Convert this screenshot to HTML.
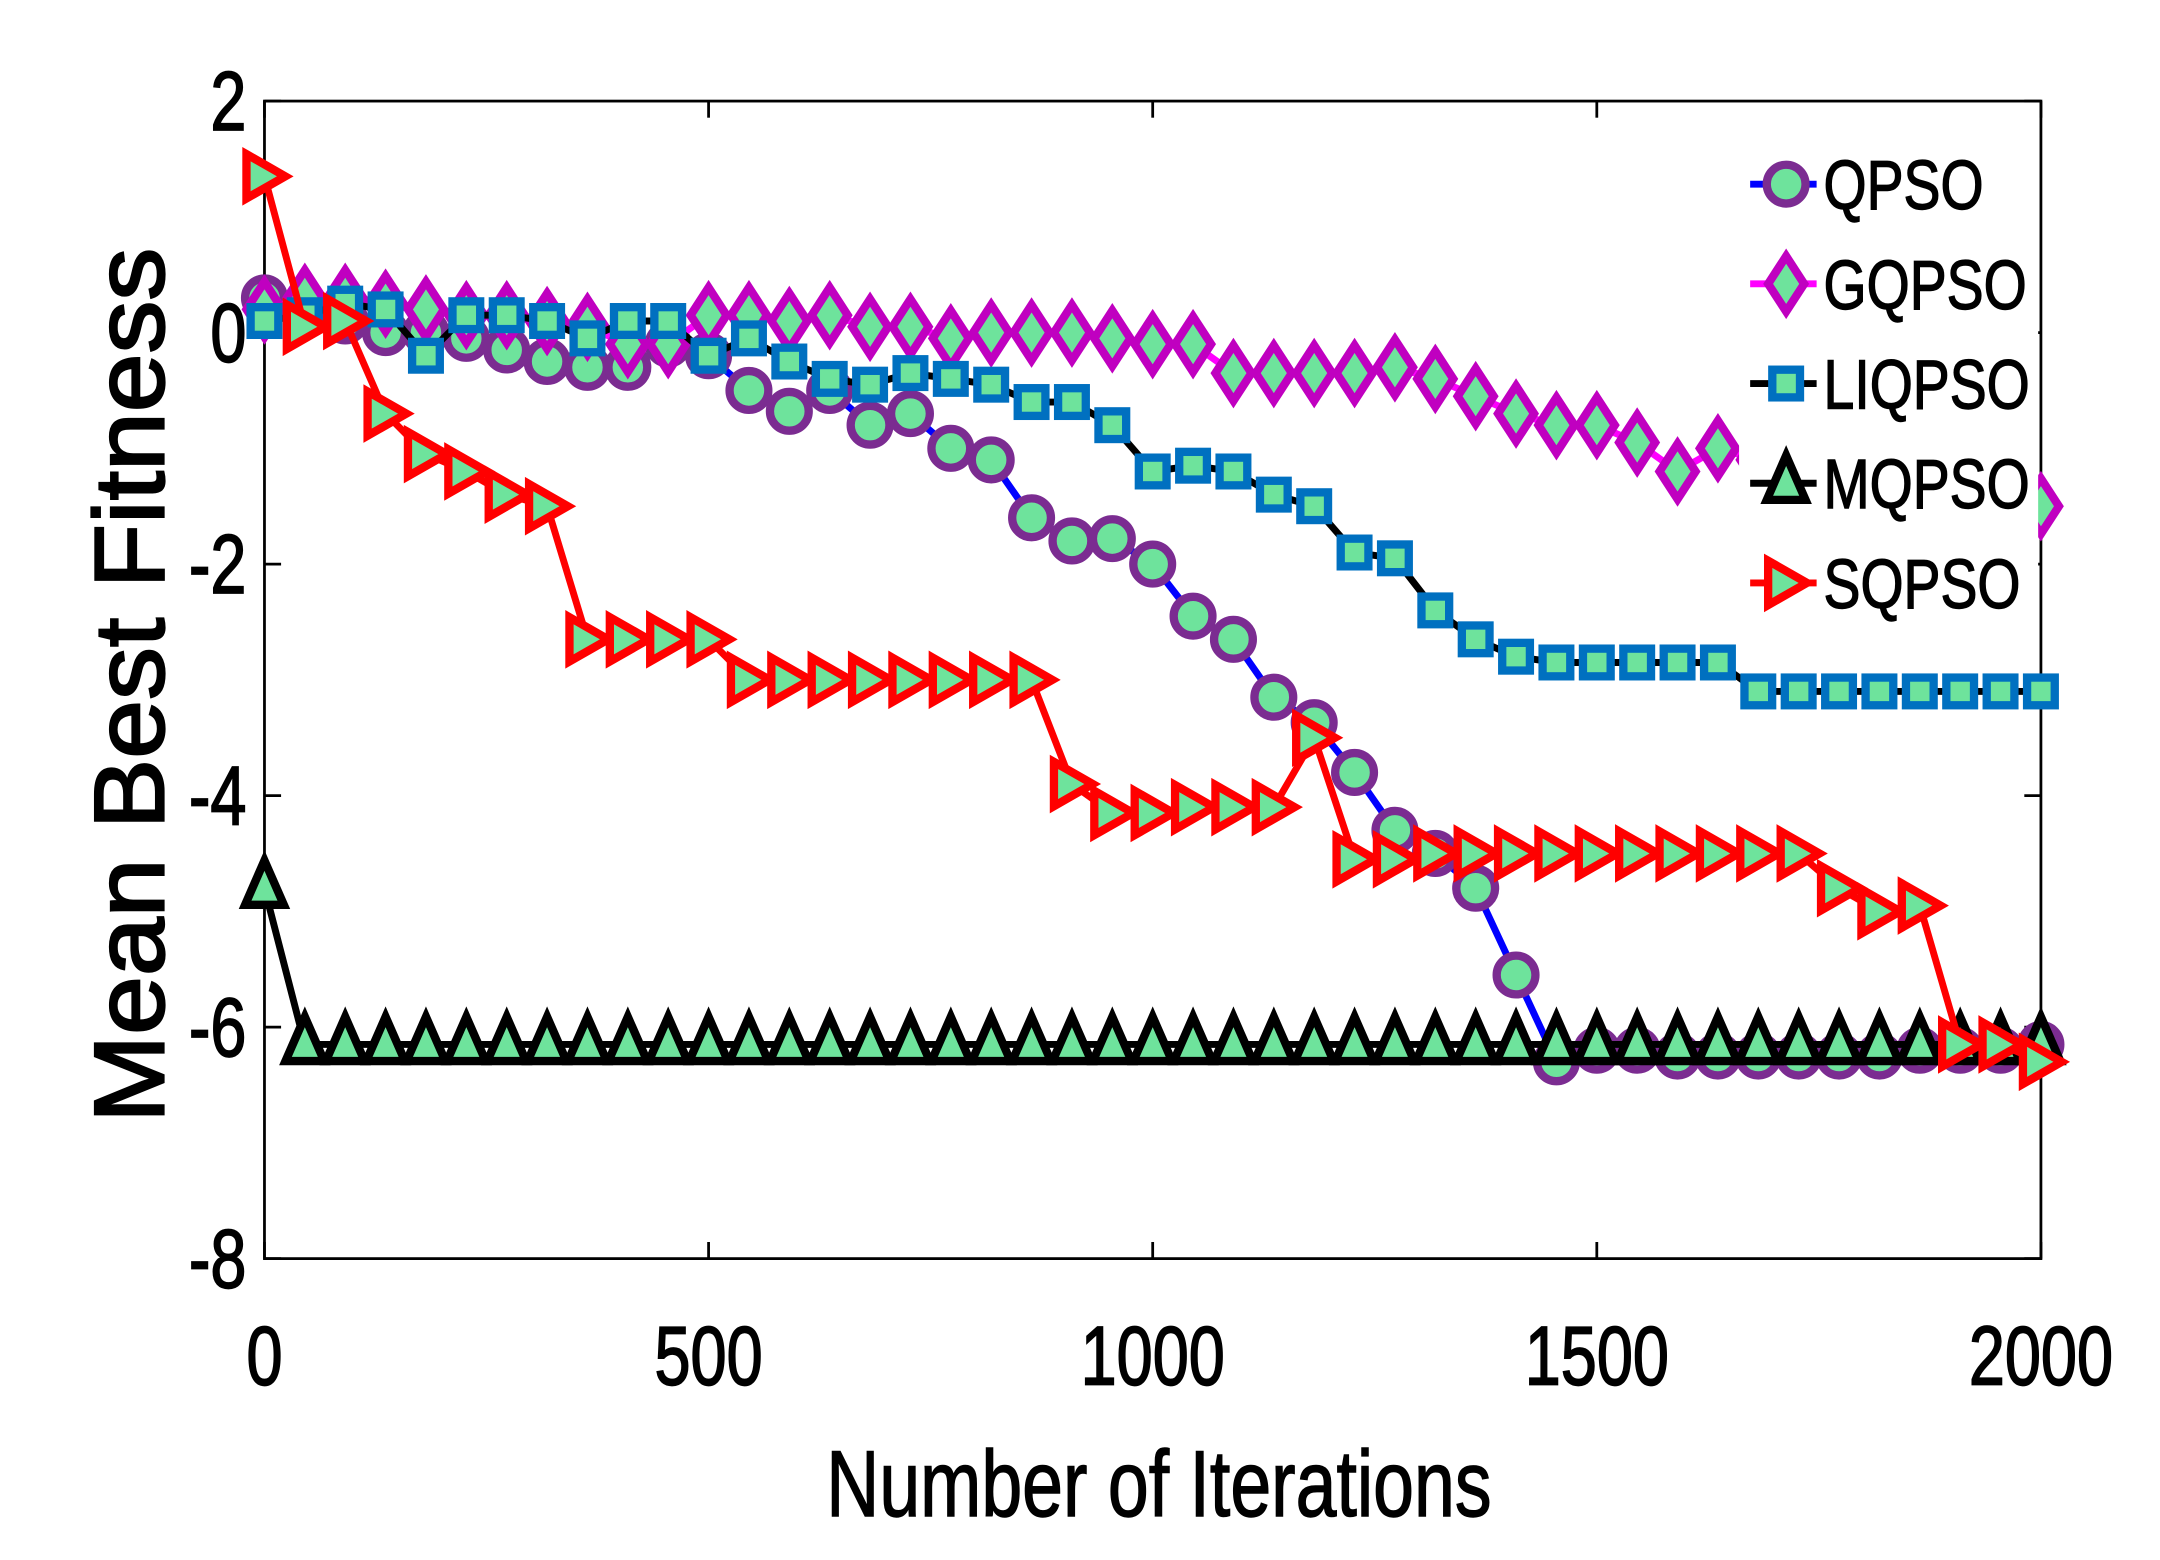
<!DOCTYPE html>
<html><head><meta charset="utf-8"><style>
html,body{margin:0;padding:0;background:#fff;}
svg{display:block;}
text{font-family:"Liberation Sans",sans-serif;fill:#000;}
</style></head><body>
<svg id="chart" width="2160" height="1560" viewBox="0 0 1560 1126.67" xmlns="http://www.w3.org/2000/svg">
<rect x="0" y="0" width="1560" height="1127" fill="#fff"/>
<g id="plot"></g>
</svg>
<script>
const iterations = [];
for (let i = 0; i < 45; i++) iterations.push(i * 2000 / 44);
const qpso = [0.3,0.2,0.1,0.0,0.0,-0.05,-0.15,-0.25,-0.3,-0.3,-0.1,-0.2,-0.5,-0.68,-0.5,-0.8,-0.7,-1.0,-1.1,-1.6,-1.8,-1.78,-2.0,-2.45,-2.65,-3.15,-3.37,-3.8,-4.3,-4.5,-4.8,-5.55,-6.3,-6.2,-6.2,-6.25,-6.25,-6.25,-6.25,-6.25,-6.25,-6.2,-6.2,-6.2,-6.15];
const gqpso = [0.2,0.3,0.3,0.25,0.2,0.15,0.15,0.1,0.05,-0.1,-0.1,0.15,0.15,0.1,0.15,0.05,0.05,-0.05,0.0,0.0,0.0,-0.05,-0.1,-0.1,-0.35,-0.35,-0.35,-0.35,-0.3,-0.4,-0.55,-0.7,-0.8,-0.8,-0.95,-1.2,-1.0,-1.1,-1.2,-1.3,-1.35,-1.4,-1.45,-1.5,-1.5];
const liqpso = [0.1,0.15,0.25,0.2,-0.2,0.15,0.15,0.1,-0.05,0.1,0.1,-0.2,-0.05,-0.25,-0.4,-0.45,-0.35,-0.4,-0.45,-0.6,-0.6,-0.8,-1.2,-1.15,-1.2,-1.4,-1.5,-1.9,-1.95,-2.4,-2.65,-2.8,-2.85,-2.85,-2.85,-2.85,-2.85,-3.1,-3.1,-3.1,-3.1,-3.1,-3.1,-3.1,-3.1];
const mqpso = [-4.8,-6.15,-6.15,-6.15,-6.15,-6.15,-6.15,-6.15,-6.15,-6.15,-6.15,-6.15,-6.15,-6.15,-6.15,-6.15,-6.15,-6.15,-6.15,-6.15,-6.15,-6.15,-6.15,-6.15,-6.15,-6.15,-6.15,-6.15,-6.15,-6.15,-6.15,-6.15,-6.15,-6.15,-6.15,-6.15,-6.15,-6.15,-6.15,-6.15,-6.15,-6.15,-6.15,-6.15,-6.15];
const sqpso = [1.35,0.05,0.1,-0.7,-1.05,-1.2,-1.4,-1.5,-2.65,-2.65,-2.65,-2.65,-3.0,-3.0,-3.0,-3.0,-3.0,-3.0,-3.0,-3.0,-3.9,-4.15,-4.15,-4.1,-4.1,-4.1,-3.5,-4.55,-4.55,-4.5,-4.5,-4.5,-4.5,-4.5,-4.5,-4.5,-4.5,-4.5,-4.5,-4.8,-5.0,-4.95,-6.15,-6.15,-6.3];
const xTicks = [0,500,1000,1500,2000];
const yTicks = [2,0,-2,-4,-6,-8];

const X0=191,X1=1474,Y0=73,Y1=909;
const xs = v => X0 + (v/2000)*(X1-X0);
const ys = v => Y0 + (2-v)/10*(Y1-Y0);
const NS="http://www.w3.org/2000/svg";
const g=document.getElementById('plot');
function mk(tag,attrs,parent){const e=document.createElementNS(NS,tag);for(const k in attrs)e.setAttribute(k,attrs[k]);(parent||g).appendChild(e);return e;}

const box=mk('rect',{x:X0,y:Y0,width:X1-X0,height:Y1-Y0,fill:'none',stroke:'#000','stroke-width':2});


xTicks.forEach(t=>{
  const x=xs(t);
  mk('line',{x1:x,y1:Y1,x2:x,y2:Y1-12,stroke:'#000','stroke-width':2});
  mk('line',{x1:x,y1:Y0,x2:x,y2:Y0+12,stroke:'#000','stroke-width':2});
  const tx=mk('text',{x:0,y:0,'font-size':60,'text-anchor':'middle',stroke:'#000','stroke-width':1.2,transform:`translate(${x},1000) scale(0.78,1)`});
  tx.textContent=t;
  
  
});
yTicks.forEach(t=>{
  const y=ys(t);
  mk('line',{x1:X0,y1:y,x2:X0+12,y2:y,stroke:'#000','stroke-width':2});
  mk('line',{x1:X1,y1:y,x2:X1-12,y2:y,stroke:'#000','stroke-width':2});
  const tx=mk('text',{x:0,y:0,'font-size':60,'text-anchor':'end',stroke:'#000','stroke-width':1.2,transform:`translate(178,${y+21}) scale(0.78,1)`});
  tx.textContent=t;
  
  
});
const xl=mk('text',{x:0,y:0,'font-size':68,'text-anchor':'middle',stroke:'#000','stroke-width':1,transform:'translate(837,1095) scale(0.78,1)'});
xl.textContent='Number of Iterations';


const yl=mk('text',{x:0,y:0,'font-size':72,'text-anchor':'middle',stroke:'#000','stroke-width':1.6,transform:'translate(118,495) rotate(-90) scale(1.06,1)'});
yl.textContent='Mean Best Fitness';



const FILL='#6ee39c';
function marker(type,x,y,edge,parent){
  const sw=6;
  if(type==='o') return mk('circle',{cx:x,cy:y,r:14,fill:FILL,stroke:edge,'stroke-width':sw},parent);
  if(type==='d') return mk('polygon',{points:`${x},${y-20} ${x+13},${y} ${x},${y+20} ${x-13},${y}`,fill:FILL,stroke:edge,'stroke-width':sw},parent);
  if(type==='s') return mk('rect',{x:x-10,y:y-10,width:20,height:20,fill:FILL,stroke:edge,'stroke-width':sw},parent);
  if(type==='^') return mk('polygon',{points:`${x},${y-20} ${x+14},${y+12} ${x-14},${y+12}`,fill:FILL,stroke:edge,'stroke-width':sw},parent);
  if(type==='>') return mk('polygon',{points:`${x-13},${y-16} ${x+15},${y} ${x-13},${y+16}`,fill:FILL,stroke:edge,'stroke-width':sw},parent);
}
const series=[
 {name:'QPSO',data:qpso,line:'#0000ff',edge:'#7b2c91',m:'o'},
 {name:'GQPSO',data:gqpso,line:'#ff00ff',edge:'#c000c0',m:'d'},
 {name:'LIQPSO',data:liqpso,line:'#000000',edge:'#0070c0',m:'s'},
 {name:'MQPSO',data:mqpso,line:'#000000',edge:'#000000',m:'^'},
 {name:'SQPSO',data:sqpso,line:'#ff0000',edge:'#ff0000',m:'>'}
];
series.forEach(s=>{
  const sg=mk('g',{});
  
  
  const pts=s.data.map((v,i)=>xs(iterations[i])+','+ys(v)).join(' ');
  mk('polyline',{points:pts,fill:'none',stroke:s.line,'stroke-width':5,'stroke-linejoin':'round'},sg);
  s.data.forEach((v,i)=>{
    const m=marker(s.m,xs(iterations[i]),ys(v),s.edge,sg);
    
    
  });
});
const lg=mk('g',{});


mk('rect',{x:1256,y:96,width:216,height:356,fill:'#fff'},lg);
series.forEach((s,i)=>{
  const y=133+i*72;
  const e=mk('g',{},lg);
  
  
  mk('line',{x1:1264,y1:y,x2:1312,y2:y,stroke:s.line,'stroke-width':5},e);
  marker(s.m,1290,y,s.edge,e);
  const t=mk('text',{x:0,y:0,'font-size':50,stroke:'#000','stroke-width':1,transform:`translate(1317,${y+18}) scale(0.8,1)`},e);
  t.textContent=s.name;
});
</script>
</body></html>
